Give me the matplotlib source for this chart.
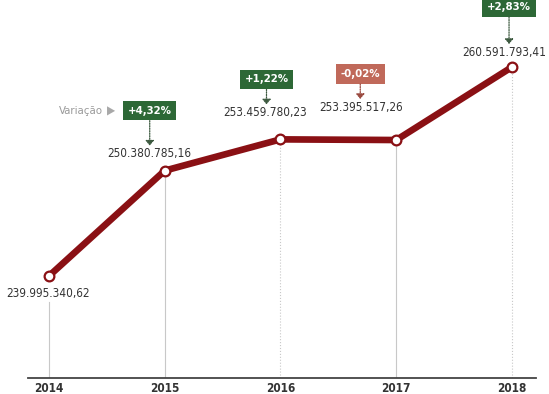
import matplotlib
matplotlib.use("Agg")
import matplotlib.pyplot as plt
from matplotlib import font_manager
from matplotlib.patches import FancyArrowPatch
from matplotlib.transforms import offset_copy

years = [2014, 2015, 2016, 2017, 2018]
values = [239995340.62, 250380785.16, 253459780.23, 253395517.26, 260591793.41]
value_labels = ["239.995.340,62", "250.380.785,16", "253.459.780,23",
                "253.395.517,26", "260.591.793,41"]
changes = [None, "+4,32%", "+1,22%", "-0,02%", "+2,83%"]

LINE_RED = "#8a1014"
GREEN = "#2d6836"
SALMON = "#c0695a"
GRID = "#c8c8c8"

# look for any condensed face among the installed fonts
condensed = [f for f in font_manager.fontManager.ttflist
             if "condensed" in str(f.stretch).lower() or "narrow" in f.name.lower()]
if condensed:
    FAM, STRETCH, VSIZE, BSIZE = condensed[0].name, condensed[0].stretch, 8.5, 8.2
else:
    FAM, STRETCH, VSIZE, BSIZE = "Liberation Sans", "normal", 8.0, 7.5
plt.rcParams["font.family"] = [FAM, "DejaVu Sans"]
plt.rcParams["font.stretch"] = STRETCH

W, H = 549, 394
fig = plt.figure(figsize=(W / 100, H / 100), dpi=100)
# axes box: x 28..536 px, y 0..378 px (from top)
ax = fig.add_axes([28 / W, 16 / H, 508 / W, 378 / H])
ax.set_xlim(2013.819, 2018.207)
ax.set_ylim(229.943e6, 267.195e6)
px = 1e6 / 10.147  # value units per pixel

for s in ["top", "left", "right"]:
    ax.spines[s].set_visible(False)
ax.spines["bottom"].set_color("#444444")
ax.spines["bottom"].set_linewidth(1.3)
ax.set_yticks([])
ax.set_xticks(years)
ax.set_xticklabels([str(y) for y in years], fontweight="bold", fontsize=8.5, color="#333333")
ax.tick_params(axis="x", length=0, pad=3)

# guide lines from the points down to the axis
styles = ["-", "-", ":", "-", ":"]
for i, (yr, v) in enumerate(zip(years, values)):
    top = v - 26 * px if i == 0 else v
    ax.plot([yr, yr], [ax.get_ylim()[0], top], color=GRID, lw=0.8,
            ls=styles[i], zorder=1)

ax.plot(years, values, color=LINE_RED, lw=4.8, solid_capstyle="round", zorder=3)
ax.plot(years, values, ls="none", marker="o", ms=7, mfc="white", mec=LINE_RED,
        mew=1.6, zorder=4)

# value labels and variation boxes (pixel offsets from each point)
label_off = [(-1, -18), (-15, 17), (-15, 27), (-35, 33), (-8, 15)]
box_off = [None, (-15, 60), (-14, 60), (-36, 66), (-3, 60)]
for i, (yr, v) in enumerate(zip(years, values)):
    ax.annotate(value_labels[i], (yr, v), xytext=label_off[i], textcoords="offset pixels",
                ha="center", va="center", fontsize=VSIZE, color="#333333", zorder=5)
    if changes[i] is None:
        continue
    col = SALMON if changes[i].startswith("-") else GREEN
    bx, by = box_off[i]
    ax.annotate(changes[i], (yr, v), xytext=(bx, by), textcoords="offset pixels",
                ha="center", va="center", fontsize=BSIZE, fontweight="bold",
                color="white", zorder=6,
                bbox=dict(boxstyle="square,pad=0.4", fc=col, ec="none"))
    # dotted arrow from the box down to the value label
    a0 = offset_copy(ax.transData, fig=fig, x=bx, y=by - 10, units="dots").transform((yr, v))
    a1 = offset_copy(ax.transData, fig=fig, x=bx, y=label_off[i][1] + 8,
                     units="dots").transform((yr, v))
    inv = fig.transFigure.inverted()
    arrow_col = "#9a4a40" if col == SALMON else "#3d5a40"
    fig.add_artist(FancyArrowPatch(inv.transform(a0), inv.transform(a1),
                                   transform=fig.transFigure,
                                   arrowstyle="-|>,head_length=3,head_width=2.5",
                                   ls=(0, (1, 1)), lw=0.9, color=arrow_col,
                                   shrinkA=0, shrinkB=0, zorder=5))

# "Variação" key next to the first box
ax.annotate("Variação", (years[1], values[1]), xytext=(-62, 60), textcoords="offset pixels",
            ha="right", va="center", fontsize=BSIZE, color="#9a9a9a")
ax.annotate("\u25B6", (years[1], values[1]), xytext=(-54, 60), textcoords="offset pixels",
            ha="center", va="center", fontsize=8.5, color="#a8a8a8",
            family="DejaVu Sans")

fig.savefig("out.png", dpi=100)
